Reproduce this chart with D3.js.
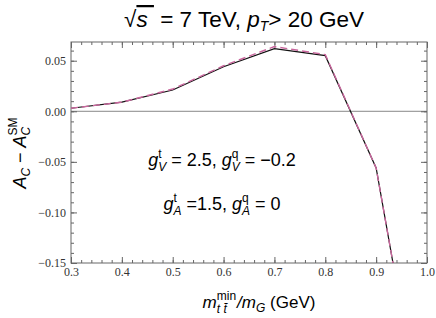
<!DOCTYPE html>
<html>
<head>
<meta charset="utf-8">
<script src="https://cdn.jsdelivr.net/npm/d3@7"></script>
<style>
  body { margin: 0; background: #fff; }
  svg { display: block; }
  .lbl { font-family: "Liberation Sans", Arial, sans-serif; fill: #000; }
</style>
</head>
<body>
<svg id="chart" width="436" height="318"></svg>
<script>
// data
const ratios = [0.3, 0.4, 0.5, 0.6, 0.7, 0.8, 0.9, 1.0];
const solidValues = [0.003, 0.009, 0.021, 0.044, 0.062, 0.055, -0.056, -0.34];
const dashedValues = [0.003, 0.009, 0.022, 0.045, 0.064, 0.056, -0.056, -0.34];
const xTicks = [0.3, 0.4, 0.5, 0.6, 0.7, 0.8, 0.9, 1.0];
const yTicks = [-0.15, -0.10, -0.05, 0.0, 0.05];

const margin = { top: 42, right: 9, bottom: 55, left: 71 };
const width = 436, height = 318;

const svg = d3.select("#chart");

const x = d3.scaleLinear().domain([0.3, 1.0]).range([margin.left, width - margin.right]);
const y = d3.scaleLinear().domain([-0.15, 0.0685]).range([height - margin.bottom, margin.top]);

const frameColor = "#666";

svg.append("defs").append("clipPath").attr("id", "clip")
  .append("rect")
  .attr("x", margin.left).attr("y", margin.top)
  .attr("width", x.range()[1] - margin.left)
  .attr("height", y.range()[0] - margin.top);

// zero line
svg.append("line")
  .attr("x1", x(0.3)).attr("x2", x(1.0))
  .attr("y1", y(0)).attr("y2", y(0))
  .attr("stroke", "#888").attr("stroke-width", 1);

const xMinor = d3.range(0.3, 1.0001, 0.02);
const yMinor = d3.range(-0.15, 0.0686, 0.01);

function styleAxis(g) {
  g.select(".domain").remove();
  g.selectAll(".tick line").attr("stroke", frameColor);
  g.attr("font-family", "'Liberation Serif', 'Times New Roman', serif")
    .attr("font-size", 12);
  g.selectAll(".tick text").attr("fill", "#333");
}

// minor ticks
[
  [d3.axisBottom(x), height - margin.bottom, "x"],
  [d3.axisTop(x), margin.top, "x"],
  [d3.axisLeft(y), margin.left, "y"],
  [d3.axisRight(y), x.range()[1], "y"]
].forEach(([ax, pos, dir]) => {
  svg.append("g")
    .attr("transform", dir === "x" ? `translate(0,${pos})` : `translate(${pos},0)`)
    .call(ax.tickValues(dir === "x" ? xMinor : yMinor).tickSize(-3).tickFormat(""))
    .call(styleAxis);
});

// major ticks
svg.append("g")
  .attr("transform", `translate(0,${height - margin.bottom})`)
  .call(d3.axisBottom(x).tickValues(xTicks).tickSize(-6).tickPadding(4).tickFormat(d3.format(".1f")))
  .call(styleAxis);
svg.append("g")
  .attr("transform", `translate(0,${margin.top})`)
  .call(d3.axisTop(x).tickValues(xTicks).tickSize(-6).tickFormat(""))
  .call(styleAxis);
svg.append("g")
  .attr("transform", `translate(${margin.left},0)`)
  .call(d3.axisLeft(y).tickValues(yTicks).tickSize(-6).tickPadding(5)
    .tickFormat(d => d3.format(".2f")(d).replace("-", "\u2212")))
  .call(styleAxis);
svg.append("g")
  .attr("transform", `translate(${x.range()[1]},0)`)
  .call(d3.axisRight(y).tickValues(yTicks).tickSize(-6).tickFormat(""))
  .call(styleAxis);

// frame
svg.append("rect")
  .attr("x", margin.left).attr("y", margin.top)
  .attr("width", x.range()[1] - margin.left)
  .attr("height", y.range()[0] - margin.top)
  .attr("fill", "none").attr("stroke", frameColor).attr("stroke-width", 1);

const line = d3.line().x(d => x(d[0])).y(d => y(d[1]));

const plot = svg.append("g").attr("clip-path", "url(#clip)");
plot.append("path")
  .datum(d3.zip(ratios, solidValues))
  .attr("d", line)
  .attr("fill", "none").attr("stroke", "#111").attr("stroke-width", 1.2);
plot.append("path")
  .datum(d3.zip(ratios, dashedValues))
  .attr("d", line)
  .attr("fill", "none").attr("stroke", "#c9679d").attr("stroke-width", 1.4)
  .attr("stroke-dasharray", "7,4");

// stacked superscript / subscript after a base glyph
function stack(t, sup, sub, size, upDy, downDy, subItalic) {
  const s1 = t.append("tspan").attr("font-size", size).attr("dy", upDy).text(sup);
  const w1 = s1.node().getComputedTextLength();
  const s2 = t.append("tspan").attr("font-size", size).attr("dy", downDy - upDy)
    .attr("font-style", subItalic ? "italic" : null).text(sub);
  const w2 = s2.node().getComputedTextLength();
  s2.attr("dx", -w1);
  // gap still needed after the sub so the pen sits past the wider of the two
  return { gap: Math.max(0, w1 - w2), back: -downDy };
}

// title
const title = svg.append("text").attr("class", "lbl")
  .attr("x", 244).attr("y", 27).attr("text-anchor", "middle").attr("font-size", 22.5);
title.append("tspan").text("\u221A");
title.append("tspan").attr("font-style", "italic").attr("text-decoration", "overline").text("s\u00A0");
title.append("tspan").text(" = 7 TeV, ");
title.append("tspan").attr("font-style", "italic").text("p");
title.append("tspan").attr("font-style", "italic").attr("font-size", 14).attr("dy", 4).text("T");
title.append("tspan").attr("dy", -4).text("> 20 GeV");

// annotations
function coupling(t, sup, sub, txt) {
  t.append("tspan").attr("font-style", "italic").text("g");
  const st = stack(t, sup, sub, 12, -8, 5, true);
  t.append("tspan").attr("dx", st.gap).attr("dy", st.back).text(txt);
}
const a1 = svg.append("text").attr("class", "lbl")
  .attr("x", 222).attr("y", 166).attr("text-anchor", "middle").attr("font-size", 18);
coupling(a1, "t", "V", " = 2.5, ");
coupling(a1, "q", "V", " = \u22120.2");

const a2 = svg.append("text").attr("class", "lbl")
  .attr("x", 222).attr("y", 210).attr("text-anchor", "middle").attr("font-size", 18);
coupling(a2, "t", "A", " =1.5, ");
coupling(a2, "q", "A", " = 0");

// x label
const xl = svg.append("text").attr("class", "lbl")
  .attr("x", 259).attr("y", 308).attr("text-anchor", "middle").attr("font-size", 17);
xl.append("tspan").attr("font-style", "italic").text("m");
{
  const st = stack(xl, "min", "t t\u0304", 12, -8, 5, true);
  xl.append("tspan").attr("dx", st.gap + 1).attr("dy", st.back)
    .attr("font-style", "italic").text("/m");
}
xl.append("tspan").attr("font-size", 12).attr("font-style", "italic").attr("dy", 4).text("G");
xl.append("tspan").attr("dy", -4).text(" (GeV)");

// y label
const yl = svg.append("text").attr("class", "lbl")
  .attr("transform", "translate(26,153) rotate(-90)")
  .attr("text-anchor", "middle").attr("font-size", 18);
yl.append("tspan").attr("font-style", "italic").text("A");
yl.append("tspan").attr("font-size", 12).attr("font-style", "italic").attr("dy", 4).text("C");
yl.append("tspan").attr("dy", -4).text(" \u2212 ");
yl.append("tspan").attr("font-style", "italic").text("A");
stack(yl, "SM", "C", 12, -9, 4, true);
</script>
</body>
</html>
